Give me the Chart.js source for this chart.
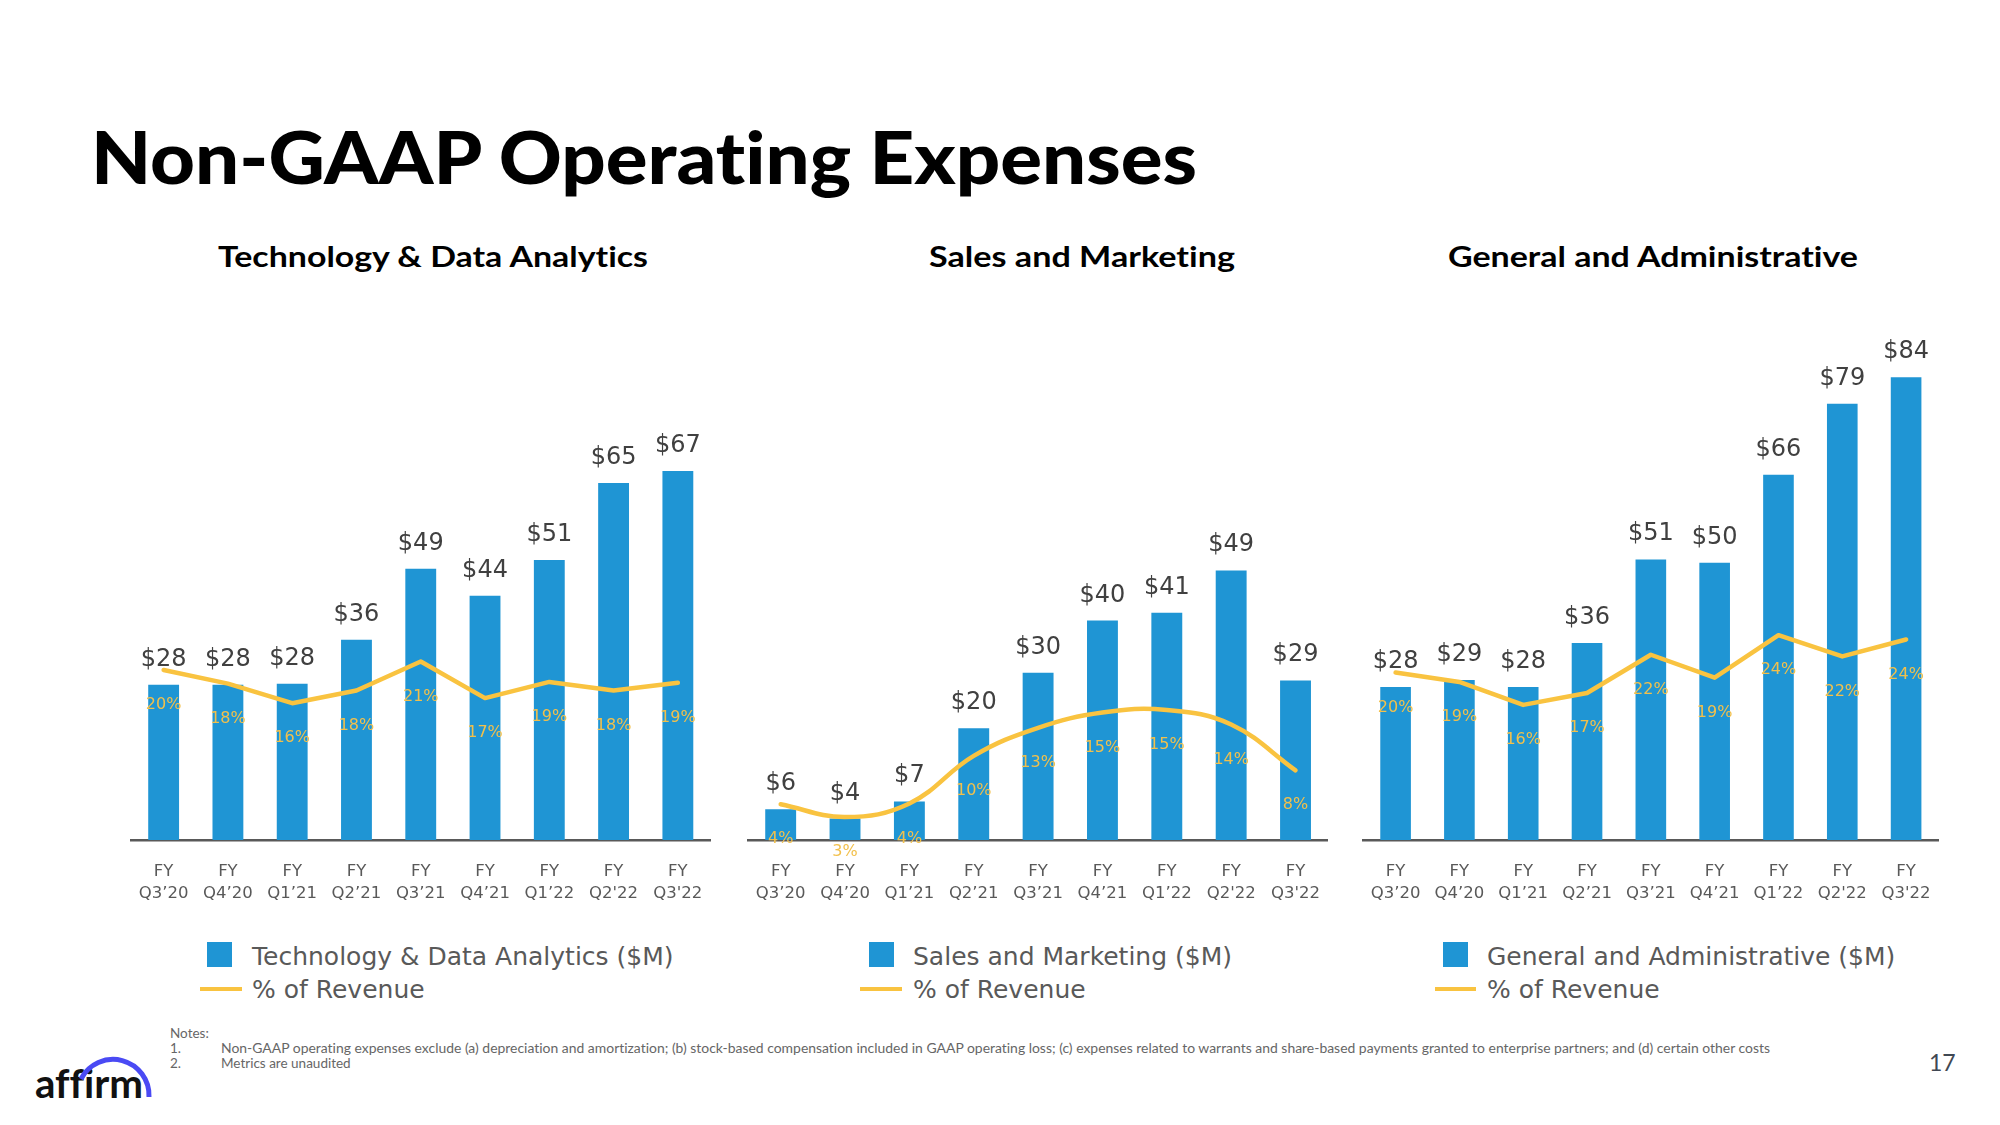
<!DOCTYPE html>
<html><head><meta charset="utf-8">
<script src="https://cdn.jsdelivr.net/npm/chart.js@4"></script>
<style>
html,body{margin:0;padding:0;background:#fff;}
body{width:2000px;height:1125px;position:relative;overflow:hidden;}
canvas{position:absolute;top:280px;}
svg{position:absolute;left:0;top:0;}
svg text{font-variant-ligatures:none;}
</style></head>
<body>
<svg width="2000" height="1125" xmlns="http://www.w3.org/2000/svg">
  <text x="91" y="184" font-family="Lato" font-weight="900" font-size="73" fill="#000" textLength="1106" lengthAdjust="spacingAndGlyphs">Non-GAAP Operating Expenses</text>
  <g font-family="Lato" font-weight="700" font-size="29" fill="#000" lengthAdjust="spacingAndGlyphs">
    <text x="218" y="267" textLength="430" lengthAdjust="spacingAndGlyphs">Technology &amp; Data Analytics</text>
    <text x="929" y="267" textLength="306" lengthAdjust="spacingAndGlyphs">Sales and Marketing</text>
    <text x="1448" y="267" textLength="410" lengthAdjust="spacingAndGlyphs">General and Administrative</text>
  </g>
  <g font-family="DejaVu Sans" font-size="25" fill="#595959">
    <rect x="207" y="942" width="25" height="25" fill="#1F95D4"/>
    <text x="252" y="965">Technology &amp; Data Analytics ($M)</text>
    <line x1="200" y1="989" x2="242" y2="989" stroke="#F9C340" stroke-width="4"/>
    <text x="252" y="998">% of Revenue</text>
    <rect x="869" y="942" width="25" height="25" fill="#1F95D4"/>
    <text x="913" y="965">Sales and Marketing ($M)</text>
    <line x1="860" y1="989" x2="902" y2="989" stroke="#F9C340" stroke-width="4"/>
    <text x="913" y="998">% of Revenue</text>
    <rect x="1443" y="942" width="25" height="25" fill="#1F95D4"/>
    <text x="1487" y="965">General and Administrative ($M)</text>
    <line x1="1435" y1="989" x2="1476" y2="989" stroke="#F9C340" stroke-width="4"/>
    <text x="1487" y="998">% of Revenue</text>
  </g>
  <g font-family="Lato" font-size="13.5" fill="#666">
    <text x="170" y="1038">Notes:</text>
    <text x="170" y="1053">1.</text>
    <text x="221" y="1053" textLength="1549" lengthAdjust="spacingAndGlyphs">Non-GAAP operating expenses exclude (a) depreciation and amortization; (b) stock-based compensation included in GAAP operating loss; (c) expenses related to warrants and share-based payments granted to enterprise partners; and (d) certain other costs</text>
    <text x="170" y="1068">2.</text>
    <text x="221" y="1068">Metrics are unaudited</text>
  </g>
  <text x="35" y="1098" font-family="Lato" font-weight="700" font-size="40" fill="#111" textLength="108" lengthAdjust="spacingAndGlyphs">affirm</text>
  <path d="M 81 1079 A 36 36 0 0 1 149 1097" fill="none" stroke="#4A4AF4" stroke-width="5"/>
  <text x="1929" y="1071" font-family="Lato" font-size="23" fill="#404853">17</text>
</svg>
<canvas id="c1" width="630" height="640" style="left:100px"></canvas>
<canvas id="c2" width="620" height="640" style="left:730px"></canvas>
<canvas id="c3" width="640" height="640" style="left:1350px"></canvas>
<script>
const categories = ["Q3’20","Q4’20","Q1’21","Q2’21","Q3’21","Q4’21","Q1’22","Q2'22","Q3'22"];
const techSpend = [28.2, 28.2, 28.4, 36.4, 49.3, 44.4, 50.9, 64.9, 67.1];
const techPct   = [20.0, 18.4, 16.1, 17.6, 21.0, 16.7, 18.6, 17.6, 18.5];
const smSpend   = [5.6, 3.9, 7.0, 20.3, 30.4, 39.9, 41.3, 49.0, 29.0];
const smPct     = [4.2, 2.7, 4.3, 9.9, 13.2, 15.0, 15.3, 13.6, 8.2];
const gaSpend   = [27.8, 29.1, 27.8, 35.8, 51.0, 50.4, 66.4, 79.3, 84.1];
const gaPct     = [19.7, 18.6, 15.9, 17.3, 21.8, 19.1, 24.1, 21.6, 23.6];

const BLUE = '#1F95D4', YELLOW = '#F9C340', PCT_TEXT = '#F2C04C';

const labelPlugin = {
  id: 'valueLabels',
  afterDatasetsDraw(chart) {
    const ctx = chart.ctx;
    const bars = chart.getDatasetMeta(0).data;
    const pts = chart.getDatasetMeta(1).data;
    const bv = chart.data.datasets[0].data, pv = chart.data.datasets[1].data;
    ctx.save();
    ctx.textAlign = 'center';
    ctx.font = '24px "DejaVu Sans"';
    ctx.fillStyle = '#404040';
    ctx.textBaseline = 'alphabetic';
    bars.forEach((el, i) => ctx.fillText('$' + Math.round(bv[i]), el.x, el.y - 19));
    ctx.font = '16px "DejaVu Sans"';
    ctx.fillStyle = PCT_TEXT;
    ctx.textBaseline = 'middle';
    pts.forEach((el, i) => ctx.fillText(Math.round(pv[i]) + '%', el.x, el.y + 35));
    ctx.restore();
  }
};

function makeChart(id, spend, pct, padL, padR, tension) {
  return new Chart(document.getElementById(id), {
    type: 'bar',
    data: {
      labels: categories.map(c => ['FY', c]),
      datasets: [
        { type: 'bar', data: spend, backgroundColor: BLUE, yAxisID: 'y', order: 2,
          barPercentage: 0.48, categoryPercentage: 1 },
        { type: 'line', data: pct, borderColor: YELLOW, borderWidth: 4.5, pointRadius: 0,
          tension: tension, yAxisID: 'y2', order: 1, borderCapStyle: 'round', borderJoinStyle: 'round' }
      ]
    },
    options: {
      responsive: false, animation: false, devicePixelRatio: 1,
      layout: { padding: { left: padL, right: padR, top: 0, bottom: 0 } },
      plugins: { legend: { display: false }, tooltip: { enabled: false } },
      scales: {
        x: {
          offset: true,
          grid: { display: false, drawTicks: false },
          border: { display: true, color: '#595959', width: 2.5 },
          ticks: { color: '#595959', font: { family: 'DejaVu Sans', size: 16.5, lineHeight: 1.38 },
                   padding: 20, maxRotation: 0, autoSkip: false },
          afterFit(s) { s.height = 80; }
        },
        y: { display: false, min: 0, max: 101.8 },
        y2: { display: false, min: 0, max: 65.9, position: 'right' }
      }
    },
    plugins: [labelPlugin]
  });
}

makeChart('c1', techSpend, techPct, 31.5, 20, 0);
makeChart('c2', smSpend, smPct, 18.5, 22.3, 0.4);
makeChart('c3', gaSpend, gaPct, 13, 52, 0);
</script>
</body></html>
